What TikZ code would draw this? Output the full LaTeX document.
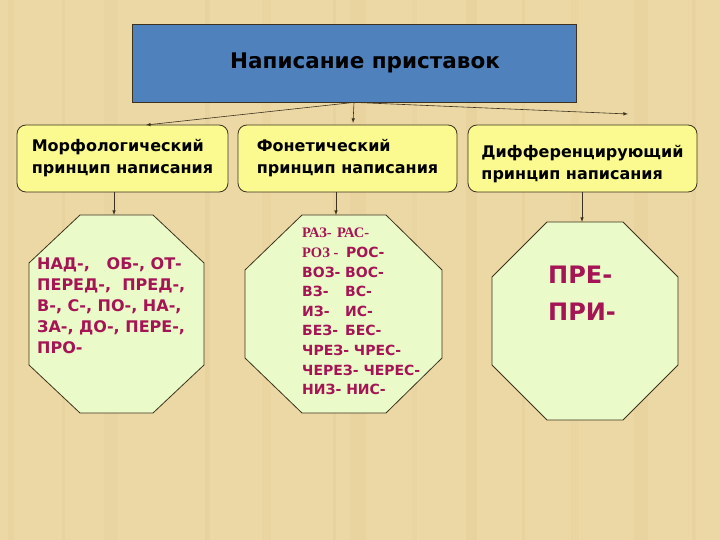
\documentclass[tikz,border=0pt]{standalone}
\usepackage{fontspec}
\setmainfont{DejaVu Sans}
\newfontfamily\rmru{Liberation Serif}
\usepackage{tikz}
\usetikzlibrary{arrows}
\definecolor{papyrus}{RGB}{236,216,165}
\definecolor{streak}{RGB}{210,182,118}
\definecolor{titleblue}{RGB}{79,129,189}
\definecolor{boxyellow}{RGB}{250,250,145}
\definecolor{octgreen}{RGB}{234,250,200}
\definecolor{prefix}{RGB}{165,20,85}
\definecolor{edge}{RGB}{60,50,30}

\begin{document}
\begin{tikzpicture}[x=1pt,y=-1pt,
                    kind/.style={draw=edge,fill=boxyellow,rounded corners=9pt,line width=0.8pt,align=left,
                                 font=\fontsize{16}{22}\selectfont\bfseries,minimum height=67pt,inner sep=0pt},
                    oct/.style={draw=edge,fill=octgreen,line width=0.8pt},
                    pref/.style={text=prefix,align=left,anchor=north west,inner sep=0pt,font=\bfseries},
                    arr/.style={-latex,draw=edge,line width=0.6pt}]
                      \useasboundingbox (0,0) rectangle (720,540);
                      \fill[papyrus] (0,0) rectangle (720,540);
                      \foreach \x/\w/\o in {8/6/0.10,62/3/0.14,104/14/0.08,205/5/0.12,262/9/0.07,333/3/0.15,
                                            350/16/0.10,412/5/0.08,466/11/0.12,522/3/0.15,571/8/0.07,634/14/0.10,692/4/0.13}
                          \fill[streak,opacity=\o] (\x,0) rectangle ++(\w,540);
                      \node[draw=edge,fill=titleblue,line width=0.8pt,minimum width=444pt,minimum height=78pt,
                            font=\fontsize{21.5}{24}\selectfont\bfseries] (title) at (354,63) {\hspace{22pt}Написание приставок};
                      \node[kind,minimum width=211pt] (morf) at (122.5,158.5) {Морфологический\\принцип написания};
                      \node[kind,minimum width=219pt] (fon) at (347.5,158.5) {Фонетический\\принцип написания};
                      \node[kind,minimum width=229pt] (diff) at (582.5,158.5) {\rule{0pt}{24pt}Дифференцирующий\\принцип написания};
                      \coordinate (t1) at (146,125);
                      \coordinate (t2) at (353,123);
                      \coordinate (t3) at (628,114);
                      \draw[arr] (title.south) -- (t1);
                      \draw[arr] (title.south) -- (t2);
                      \draw[arr] (title.south) -- (t3);
                      \draw[oct] (80,215) -- (153,215) -- (204,263) -- (204,365) -- (153,413) -- (80,413) -- (29,365) -- (29,263) -- cycle;
                      \draw[oct] (302,215) -- (386,215) -- (442,270) -- (442,358) -- (386,413) -- (302,413) -- (245,358) -- (245,270) -- cycle;
                      \draw[oct] (547,222) -- (623,222) -- (678,277) -- (678,365) -- (623,420) -- (547,420) -- (492,365) -- (492,277) -- cycle;
                      \coordinate (o1) at (114,215);
                      \coordinate (o2) at (336,215);
                      \coordinate (o3) at (582,222);
                      \draw[arr] (morf.south -| o1) -- (o1);
                      \draw[arr] (fon.south -| o2) -- (o2);
                      \draw[arr] (diff.south -| o3) -- (o3);
                      \node[pref,font=\fontsize{16}{21}\selectfont\bfseries] (morfpref) at (37,257)
                          {НАД-,\ \ \ ОБ-, ОТ-\\ПЕРЕД-,\ \ ПРЕД-,\\В-, С-, ПО-, НА-,\\ЗА-, ДО-, ПЕРЕ-,\\ПРО-};
                      \node[pref,font=\fontsize{14}{19.6}\selectfont\bfseries] (fonpref) at (302,228)
                          {{\rmru\fontsize{14.5}{19.6}\selectfont\makebox[35pt][l]{РАЗ-}РАС-}\\
                           {\rmru\fontsize{14.5}{19.6}\selectfont\makebox[44pt][l]{РОЗ -}}РОС-\\
                           \makebox[43pt][l]{ВОЗ-}ВОС-\\
                           \makebox[43pt][l]{ВЗ-}ВС-\\
                           \makebox[43pt][l]{ИЗ-}ИС-\\
                           \makebox[43pt][l]{БЕЗ-}БЕС-\\
                           ЧРЕЗ- ЧРЕС-\\
                           ЧЕРЕЗ- ЧЕРЕС-\\
                           НИЗ- НИС-};
                      \node[pref,font=\fontsize{24}{37}\selectfont\bfseries] (diffpref) at (548,266) {ПРЕ-\\ПРИ-};
                  \end{tikzpicture}
\end{document}
